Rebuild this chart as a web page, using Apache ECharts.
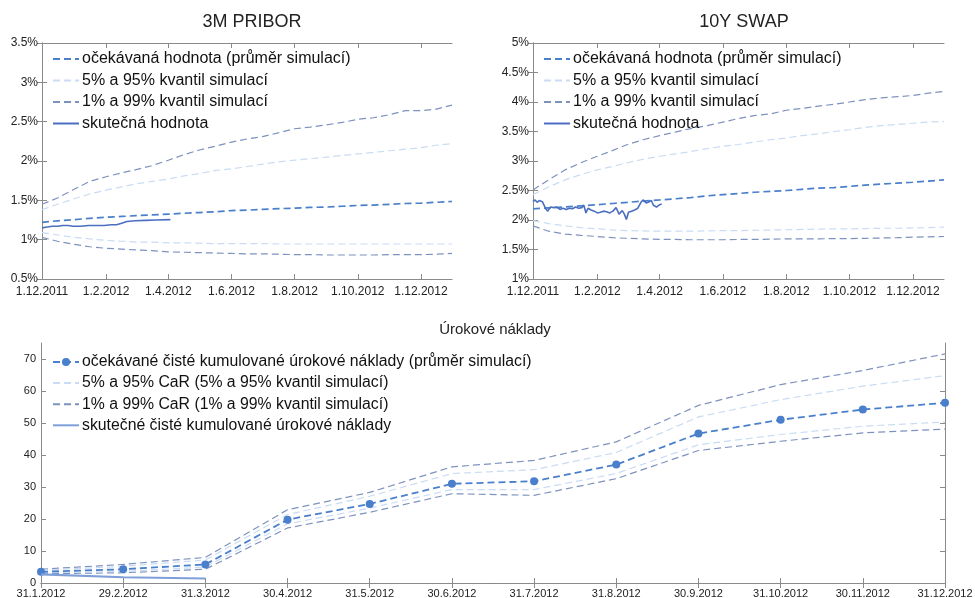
<!DOCTYPE html>
<html>
<head>
<meta charset="utf-8">
<script src="https://cdn.jsdelivr.net/npm/echarts@6/dist/echarts.min.js"></script>
<style>
html,body{margin:0;padding:0;background:#fff;}
#c{width:975px;height:598px;}
</style>
</head>
<body>
<div id="c"></div>
<script>
// ---------- shared tick data (top charts: day index from 1.12.2011) ----------
const xTickDays = [0, 62, 122, 183, 244, 305, 366];
const xTickLabels = ['1.12.2011', '1.2.2012', '1.4.2012', '1.6.2012', '1.8.2012', '1.10.2012', '1.12.2012'];
const simDays = [0,15,31,46,62,77,91,106,122,137,152,168,183,198,213,229,244,259,275,290,305,320,336,351,366,381,396];

// ---------- 3M PRIBOR ----------
const pribMean = [1.22,1.24,1.255,1.27,1.285,1.295,1.305,1.315,1.325,1.335,1.345,1.355,1.37,1.375,1.385,1.395,1.40,1.41,1.415,1.425,1.435,1.44,1.45,1.46,1.465,1.475,1.485];
const prib99U = [1.45,1.53,1.64,1.74,1.80,1.85,1.89,1.94,2.01,2.08,2.14,2.19,2.24,2.28,2.31,2.36,2.41,2.43,2.46,2.49,2.53,2.55,2.59,2.64,2.64,2.66,2.71];
const prib95U = [1.38,1.45,1.52,1.58,1.63,1.67,1.71,1.74,1.77,1.81,1.84,1.88,1.90,1.93,1.96,1.99,2.01,2.03,2.05,2.07,2.09,2.11,2.13,2.15,2.17,2.20,2.22];
const prib5L = [1.09,1.06,1.03,1.01,0.99,0.98,0.97,0.97,0.96,0.96,0.955,0.95,0.95,0.95,0.95,0.945,0.945,0.945,0.945,0.945,0.945,0.945,0.945,0.945,0.945,0.945,0.945];
const prib1L = [1.03,0.98,0.94,0.91,0.89,0.88,0.87,0.86,0.845,0.84,0.835,0.83,0.825,0.82,0.82,0.815,0.81,0.81,0.805,0.805,0.805,0.805,0.81,0.81,0.81,0.815,0.825];
const pribActDays = [0,5,10,15,20,25,30,37,45,52,60,67,72,77,82,90,100,110,124];
const pribAct = [1.15,1.16,1.17,1.17,1.18,1.18,1.17,1.17,1.18,1.18,1.18,1.19,1.19,1.21,1.23,1.24,1.245,1.25,1.255];

// ---------- 10Y SWAP ----------
const swapMean = [2.19,2.205,2.22,2.24,2.26,2.28,2.30,2.32,2.34,2.36,2.38,2.41,2.43,2.45,2.47,2.485,2.50,2.52,2.54,2.55,2.57,2.59,2.61,2.625,2.64,2.66,2.68];
const swap99U = [2.51,2.68,2.85,2.97,3.08,3.18,3.28,3.36,3.43,3.49,3.55,3.60,3.66,3.72,3.77,3.80,3.86,3.89,3.93,3.96,4.00,4.04,4.07,4.09,4.11,4.15,4.18];
const swap95U = [2.43,2.56,2.68,2.77,2.85,2.91,2.97,3.03,3.08,3.12,3.16,3.21,3.25,3.28,3.32,3.36,3.39,3.43,3.46,3.50,3.53,3.57,3.60,3.62,3.64,3.66,3.67];
const swap5L = [1.99,1.94,1.90,1.87,1.85,1.83,1.82,1.815,1.81,1.81,1.81,1.815,1.82,1.82,1.825,1.83,1.835,1.84,1.845,1.85,1.85,1.855,1.86,1.86,1.865,1.87,1.88];
const swap1L = [1.90,1.81,1.76,1.74,1.72,1.70,1.69,1.68,1.67,1.67,1.665,1.665,1.665,1.67,1.67,1.675,1.68,1.68,1.68,1.685,1.685,1.69,1.695,1.70,1.71,1.715,1.72];
const swapActDays = [0,2,4,6,9,12,14,17,20,23,26,29,32,35,38,41,44,47,49,51,53,56,59,62,65,68,71,74,77,80,83,86,88,90,92,95,98,101,104,106,109,111,114,116,119,122,124];
const swapAct = [2.31,2.34,2.30,2.33,2.31,2.20,2.15,2.22,2.21,2.22,2.18,2.20,2.18,2.20,2.19,2.22,2.20,2.21,2.25,2.12,2.20,2.17,2.15,2.12,2.13,2.15,2.14,2.12,2.15,2.21,2.10,2.16,2.10,2.01,2.13,2.15,2.17,2.20,2.30,2.34,2.29,2.30,2.33,2.25,2.22,2.26,2.27];

// ---------- Úrokové náklady ----------
const costCategories = ['31.1.2012','29.2.2012','31.3.2012','30.4.2012','31.5.2012','30.6.2012','31.7.2012','31.8.2012','30.9.2012','31.10.2012','30.11.2012','31.12.2012'];
const costMean = [3.5,4.3,5.8,19.8,24.7,31.0,31.8,37.0,46.7,51.0,54.2,56.3];
const cost99U = [4.3,5.8,8.0,22.9,28.3,36.3,38.3,44.1,55.5,62.0,66.4,71.6];
const cost95U = [4.0,5.2,7.2,21.4,27.1,34.2,35.4,40.8,51.9,57.3,61.5,64.8];
const cost5L = [3.2,3.6,5.0,18.5,23.4,29.2,29.2,34.2,43.2,46.4,49.0,50.3];
const cost1L = [2.9,3.2,4.3,17.2,22.1,27.9,27.4,32.6,41.4,44.3,46.9,48.1];
const costAct = [2.7,1.8,1.4];
const costYTicks = [0,10,20,30,40,50,60,70];

// ---------- styling ----------
const FONT = "'Liberation Sans', Arial, Helvetica, sans-serif";
const AX = '#8a8a8a';
const C_MEAN = '#4a7fcc';
const C_95 = '#c9dcf3';
const C_99 = '#7d92bd';
const C_ACT = '#4b6fc0';
const C_ACT2 = '#7f9fd8';
const DASH = [7, 4];

const names = {
  mean: 'očekávaná hodnota (průměr simulací)',
  q95: '5% a 95% kvantil simulací',
  q99: '1% a 99% kvantil simulací',
  act: 'skutečná hodnota'
};
const bnames = {
  mean: 'očekávané čisté kumulované úrokové náklady (průměr simulací)',
  q95: '5% a 95% CaR (5% a 95% kvantil simulací)',
  q99: '1% a 99% CaR (1% a 99% kvantil simulací)',
  act: 'skutečné čisté kumulované úrokové náklady'
};

function pairs(days, vals) { return days.map((d, i) => [d, vals[i]]); }
function fmtPct(v) { return (Math.round(v * 10) / 10) + '%'; }
function dayLabel(v) { const i = xTickDays.indexOf(v); return i >= 0 ? xTickLabels[i] : ''; }

function topXAxes(gi) {
  return [
    { type: 'value', gridIndex: gi, min: 0, max: 396, position: 'bottom',
      axisLine: { show: true, lineStyle: { color: AX, width: 1 } },
      axisTick: { show: true, inside: true, length: 5, customValues: xTickDays, lineStyle: { color: AX } },
      axisLabel: { show: true, customValues: xTickDays, formatter: dayLabel, margin: 7, color: '#222', fontFamily: FONT, fontSize: 12, showMinLabel: true, showMaxLabel: true, hideOverlap: false },
      splitLine: { show: false } },
    { type: 'value', gridIndex: gi, min: 0, max: 396, position: 'top',
      axisLine: { show: true, lineStyle: { color: AX, width: 1 } },
      axisTick: { show: true, inside: true, length: 5, customValues: xTickDays, lineStyle: { color: AX } },
      axisLabel: { show: false },
      splitLine: { show: false } }
  ];
}
function topYAxes(gi, mn, mx) {
  return [
    { type: 'value', gridIndex: gi, min: mn, max: mx, interval: 0.5, position: 'left',
      axisLine: { show: true, lineStyle: { color: AX, width: 1 } },
      axisTick: { show: true, inside: true, length: 5, lineStyle: { color: AX } },
      axisLabel: { formatter: fmtPct, margin: 4, color: '#222', fontFamily: FONT, fontSize: 12, showMinLabel: true, showMaxLabel: true },
      splitLine: { show: false } },
    { type: 'value', gridIndex: gi, min: mn, max: mx, interval: 0.5, position: 'right',
      axisLine: { show: true, lineStyle: { color: AX, width: 1 } },
      axisTick: { show: true, inside: true, length: 5, lineStyle: { color: AX } },
      axisLabel: { show: false },
      splitLine: { show: false } }
  ];
}

function dashed(name, color, width, data, xi, yi, z) {
  return { type: 'line', name: name, xAxisIndex: xi, yAxisIndex: yi, data: data,
    symbol: 'none', showSymbol: false, silent: true, animation: false, z: z || 2,
    lineStyle: { color: color, width: width, type: DASH }, itemStyle: { color: color } };
}
function solid(name, color, width, data, xi, yi) {
  return { type: 'line', name: name, xAxisIndex: xi, yAxisIndex: yi, data: data,
    symbol: 'none', showSymbol: false, silent: true, animation: false, z: 5,
    lineStyle: { color: color, width: width, type: 'solid' }, itemStyle: { color: color } };
}

function topSeries(xi, yi, mean, u99, u95, l5, l1, actDays, act) {
  return [
    dashed(names.q99, C_99, 1.2, pairs(simDays, u99), xi, yi),
    dashed(names.q99, C_99, 1.2, pairs(simDays, l1), xi, yi),
    dashed(names.q95, C_95, 1.2, pairs(simDays, u95), xi, yi),
    dashed(names.q95, C_95, 1.2, pairs(simDays, l5), xi, yi),
    dashed(names.mean, C_MEAN, 1.7, pairs(simDays, mean), xi, yi, 3),
    solid(names.act, C_ACT, 1.6, pairs(actDays, act), xi, yi)
  ];
}

// legend entries: hide the symbol dot for series drawn without symbols
function lineOnly(n) { return { name: n, itemStyle: { opacity: 0 } }; }

function legend(left, top, data, gap, fs, ih) {
  return { orient: 'vertical', left: left, top: top, data: data, itemWidth: 26, itemHeight: ih,
    itemGap: gap, selectedMode: false, padding: 0,
    textStyle: { fontFamily: FONT, fontSize: fs, color: '#111', lineHeight: 16, padding: [0, 0, 0, -2] } };
}

const option = {
  animation: false,
  backgroundColor: '#fff',
  title: [
    { text: '3M PRIBOR', left: 247, top: 8, textAlign: 'center', textStyle: { fontFamily: FONT, fontSize: 18, fontWeight: 'normal', color: '#222' } },
    { text: '10Y SWAP', left: 739, top: 8, textAlign: 'center', textStyle: { fontFamily: FONT, fontSize: 18, fontWeight: 'normal', color: '#222' } },
    { text: 'Úrokové náklady', left: 490, top: 317, textAlign: 'center', textStyle: { fontFamily: FONT, fontSize: 15, fontWeight: 'normal', color: '#222' } }
  ],
  grid: [
    { left: 42, top: 43, width: 410, height: 236, outerBoundsMode: 'none' },
    { left: 533, top: 43, width: 411, height: 236, outerBoundsMode: 'none' },
    { left: 41, top: 343, width: 904, height: 240, outerBoundsMode: 'none' }
  ],
  legend: [
    legend(52, 51, [lineOnly(names.mean), lineOnly(names.q95), lineOnly(names.q99), lineOnly(names.act)], 5.5, 16, 14),
    legend(543, 51, [lineOnly(names.mean), lineOnly(names.q95), lineOnly(names.q99), lineOnly(names.act)], 5.5, 16, 14),
    legend(52, 354, [{ name: bnames.mean }, lineOnly(bnames.q95), lineOnly(bnames.q99), lineOnly(bnames.act)], 5.1, 15.8, 10)
  ],
  xAxis: [].concat(topXAxes(0), topXAxes(1), [
    { type: 'category', gridIndex: 2, data: costCategories, boundaryGap: false, position: 'bottom',
      axisLine: { show: true, lineStyle: { color: AX } },
      axisTick: { show: true, inside: true, length: 5, lineStyle: { color: AX } },
      axisLabel: { interval: 0, margin: 5, color: '#222', fontFamily: FONT, fontSize: 11 },
      splitLine: { show: false } },
    { type: 'category', gridIndex: 2, data: costCategories, boundaryGap: false, position: 'top',
      axisLine: { show: true, lineStyle: { color: AX } },
      axisTick: { show: true, inside: true, length: 5, lineStyle: { color: AX } },
      axisLabel: { show: false },
      splitLine: { show: false } }
  ]),
  yAxis: [].concat(topYAxes(0, 0.5, 3.5), topYAxes(1, 1, 5), [
    { type: 'value', gridIndex: 2, min: 0, max: 75, interval: 10, position: 'left',
      axisLine: { show: true, lineStyle: { color: AX } },
      axisTick: { show: true, inside: true, length: 5, customValues: costYTicks, lineStyle: { color: AX } },
      axisLabel: { customValues: costYTicks, margin: 5, color: '#222', fontFamily: FONT, fontSize: 11 },
      splitLine: { show: false } },
    { type: 'value', gridIndex: 2, min: 0, max: 75, interval: 10, position: 'right',
      axisLine: { show: true, lineStyle: { color: AX } },
      axisTick: { show: true, inside: true, length: 5, customValues: costYTicks, lineStyle: { color: AX } },
      axisLabel: { show: false },
      splitLine: { show: false } }
  ]),
  series: [].concat(
    topSeries(0, 0, pribMean, prib99U, prib95U, prib5L, prib1L, pribActDays, pribAct),
    topSeries(2, 2, swapMean, swap99U, swap95U, swap5L, swap1L, swapActDays, swapAct),
    [
      dashed(bnames.q99, C_99, 1.2, cost99U, 4, 4),
      dashed(bnames.q99, C_99, 1.2, cost1L, 4, 4),
      dashed(bnames.q95, C_95, 1.2, cost95U, 4, 4),
      dashed(bnames.q95, C_95, 1.2, cost5L, 4, 4),
      Object.assign(dashed(bnames.mean, C_MEAN, 1.8, costMean, 4, 4, 4), { symbol: 'circle', showSymbol: true, symbolSize: 8 }),
      solid(bnames.act, C_ACT2, 2.2, costAct, 4, 4)
    ]
  )
};

const chart = echarts.init(document.getElementById('c'), null, { renderer: 'canvas' });
chart.setOption(option);
</script>
</body>
</html>
